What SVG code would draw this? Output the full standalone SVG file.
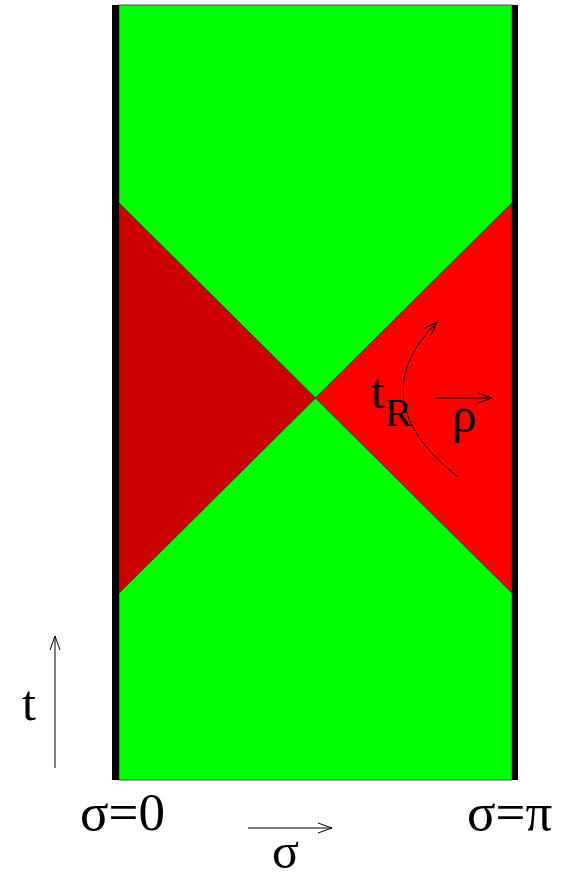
<svg xmlns="http://www.w3.org/2000/svg" width="569" height="879" viewBox="0 0 569 879">
<defs>
<style>
.lbl{font-family:"Liberation Serif","Times New Roman",serif;fill:#000}
.ax{stroke:#000;stroke-width:1;fill:none}
.edge{stroke:#333;stroke-width:1}
</style>
<marker id="ah" markerUnits="userSpaceOnUse" markerWidth="16" markerHeight="12" refX="14" refY="5" orient="auto" viewBox="0 0 16 10">
<path d="M0,0 L14,5 L0,10" fill="none" stroke="#000" stroke-width="1"/>
</marker>
</defs>
<rect width="569" height="879" fill="#fff"/>
<g id="strip">
<rect x="119" y="5" width="393" height="775" fill="#00ff00" stroke="#555" stroke-width="1"/>
</g>
<g id="left-wedge">
<polygon points="119,203 315.5,398 119,593" fill="#cc0000" class="edge"/>
</g>
<g id="right-wedge">
<polygon points="512,203 315.5,398 512,593" fill="#ff0000" class="edge"/>
</g>
<g id="boundaries">
<rect x="112" y="5" width="7" height="775" fill="#000"/>
<rect x="512" y="5" width="6" height="775" fill="#000"/>
</g>
<g id="connectors">
<line class="ax" x1="55" y1="768" x2="55" y2="636" marker-end="url(#ah)"/>
<line class="ax" x1="248" y1="828" x2="332" y2="828" marker-end="url(#ah)"/>
<line class="ax" x1="435" y1="398" x2="492" y2="398" marker-end="url(#ah)"/>
<path class="ax" d="M458,477 Q360,400 437,322" marker-end="url(#ah)"/>
</g>
<g id="labels">
<text class="lbl" x="22" y="720" font-size="50">t</text>
<text class="lbl" x="80" y="830" font-size="53">σ=0</text>
<text class="lbl" x="467" y="830" font-size="53">σ=π</text>
<text class="lbl" x="272" y="868" font-size="50">σ</text>
<text class="lbl" x="371" y="408" font-size="50">t<tspan font-size="40" dy="18">R</tspan></text>
<text class="lbl" x="452" y="432" font-size="50">ρ</text>
</g>
</svg>
